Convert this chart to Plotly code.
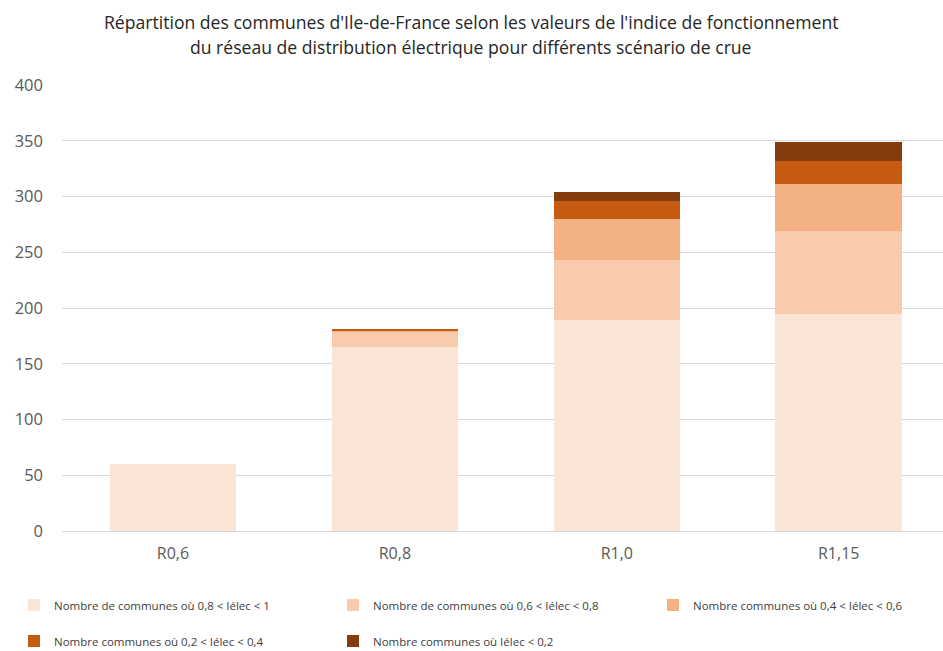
import plotly.graph_objects as go

# Flood scenarios (x categories)
scenarios = ["R0,6", "R0,8", "R1,0", "R1,15"]

# Number of communes per class of the electrical network index
n_08_1 = [60, 165, 189, 195]
n_06_08 = [0, 14, 54, 74]
n_04_06 = [0, 1, 37, 42]
n_02_04 = [0, 1, 16, 21]
n_0_02 = [0, 0, 8, 17]

series_names = [
    "Nombre de communes où 0,8 < Iélec < 1",
    "Nombre de communes où 0,6 < Iélec < 0,8",
    "Nombre communes où 0,4 < Iélec < 0,6",
    "Nombre communes où 0,2 < Iélec < 0,4",
    "Nombre communes où Iélec < 0,2",
]
series_values = [n_08_1, n_06_08, n_04_06, n_02_04, n_0_02]
colors = ["#FBE5D6", "#F8CBAD", "#F4B183", "#C55A11", "#843C0C"]

# One legend box per entry, laid out on a 3-column grid (pixel anchors)
legend_ids = ["legend", "legend2", "legend3", "legend4", "legend5"]
legend_pos = [(14, 605), (333, 605), (653, 605), (14, 641), (333, 641)]

font_family = "Open Sans, Noto Sans, sans-serif"
W, H = 943, 651
left, top, bottom = 62, 85, 120
plot_h = H - top - bottom

fig = go.Figure()
for name, vals, col, lg in zip(series_names, series_values, colors, legend_ids):
    fig.add_trace(go.Bar(
        x=scenarios, y=vals, name=name,
        marker=dict(color=col, line=dict(width=0)),
        legend=lg,
    ))

legend_layout = {}
for lg, (px, py) in zip(legend_ids, legend_pos):
    legend_layout[lg] = dict(
        orientation="h", xanchor="left", yanchor="middle",
        xref="container", yref="container",
        x=px / W, y=1 - py / H,
        font=dict(family=font_family, size=11.5, color="#404040"),
        bgcolor="rgba(0,0,0,0)", itemsizing="constant",
    )

fig.update_layout(
    width=W, height=H,
    margin=dict(l=left, r=0, t=top, b=bottom, autoexpand=False),
    barmode="stack", bargap=0.43,
    plot_bgcolor="white", paper_bgcolor="white",
    font=dict(family=font_family, color="#595959"),
    xaxis=dict(
        range=[-0.5, 3.47], showgrid=False,
        showline=True, linecolor="#D9D9D9", linewidth=1,
        ticks="", tickfont=dict(size=16, color="#595959"),
        ticklabelstandoff=8,
    ),
    yaxis=dict(
        range=[0, 400], dtick=50, showgrid=True, gridcolor="#D9D9D9",
        gridwidth=1, zeroline=False, showline=False, ticks="",
        tickfont=dict(size=16.5, color="#595959"), ticklabelstandoff=18,
    ),
    showlegend=True,
    **legend_layout,
)

title_lines = [
    "Répartition des communes d'Ile-de-France selon les valeurs de l'indice de fonctionnement",
    "du réseau de distribution électrique pour différents scénario de crue",
]
for i, line in enumerate(title_lines):
    fig.add_annotation(
        text=line, xref="paper", yref="paper",
        x=(471 - left) / (W - left), y=1 + (top - (22 + 25 * i)) / plot_h,
        xanchor="center", yanchor="middle", showarrow=False,
        font=dict(family=font_family, size=17.6, color="#262626"),
    )

fig.write_html("out.html")
